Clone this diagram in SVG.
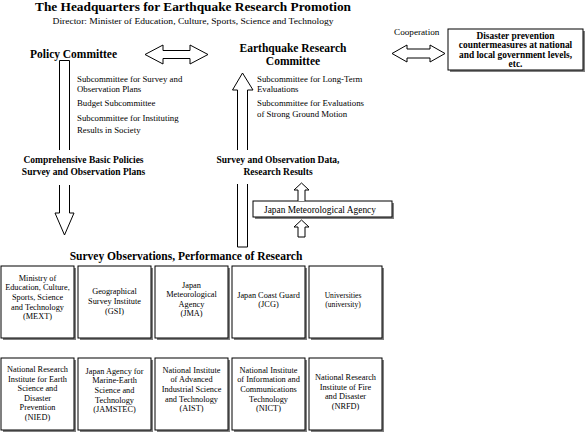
<svg xmlns="http://www.w3.org/2000/svg" width="585" height="433" viewBox="0 0 585 433" font-family="'Liberation Serif', 'Times New Roman', serif">
<defs>
<style>
text{font-family:'Liberation Serif','Times New Roman',serif;fill:#000}
.b{font-weight:bold}
.s{font-size:8.3px}
.sc{font-size:8.8px}
.lb{font-size:9.5px;font-weight:bold}
.c{text-anchor:middle}
.box{fill:#fff;stroke:#000;stroke-width:1}
.sh{fill:#808080}
.arr{fill:#fff;stroke:#000;stroke-width:1}
.ln{fill:none;stroke:#000;stroke-width:1}
</style>
</defs>
<rect width="585" height="433" fill="#fff"/>

<g id="header">
<text class="b c" x="193" y="11" font-size="12.5" textLength="316" lengthAdjust="spacingAndGlyphs">The Headquarters for Earthquake Research Promotion</text>
<text class="c" x="193" y="24" font-size="9" textLength="281" lengthAdjust="spacingAndGlyphs">Director: Minister of Education, Culture, Sports, Science and Technology</text>
</g>

<g id="policy-committee">
<text class="b" x="30" y="58" font-size="11.5" textLength="87" lengthAdjust="spacingAndGlyphs">Policy Committee</text>
<text class="sc" x="77" y="82">Subcommittee for Survey and</text>
<text class="sc" x="77" y="92">Observation Plans</text>
<text class="sc" x="77" y="106">Budget Subcommittee</text>
<text class="sc" x="77" y="121">Subcommittee for Instituting</text>
<text class="sc" x="77" y="133">Results in Society</text>
</g>

<g id="earthquake-research-committee">
<text class="b c" x="293" y="52" font-size="11.5">Earthquake Research</text>
<text class="b c" x="293" y="65" font-size="11.5">Committee</text>
<text class="sc" x="257" y="82">Subcommittee for Long-Term</text>
<text class="sc" x="257" y="92">Evaluations</text>
<text class="sc" x="257" y="106">Subcommittee for Evaluations</text>
<text class="sc" x="257" y="117">of Strong Ground Motion</text>
</g>

<g id="disaster-prevention">
<rect class="sh" x="450" y="31" width="135" height="41"/>
<rect class="box" x="448" y="29" width="135" height="41"/>
<text class="b c" x="515.5" y="38.5" font-size="9.4">Disaster prevention</text>
<text class="b c" x="515.5" y="48" font-size="9.4">countermeasures at national</text>
<text class="b c" x="515.5" y="57.5" font-size="9.4">and local government levels,</text>
<text class="b c" x="515.5" y="67" font-size="9.4">etc.</text>
</g>

<g id="labels">
<text x="394" y="35" font-size="9.2">Cooperation</text>
<text class="lb c" x="83.5" y="163">Comprehensive Basic Policies</text>
<text class="lb c" x="83.5" y="175">Survey and Observation Plans</text>
<text class="lb c" x="278" y="163">Survey and Observation Data,</text>
<text class="lb c" x="278" y="175">Research Results</text>
<text class="b c" x="186" y="260" font-size="11.5">Survey Observations, Performance of Research</text>
</g>

<g id="jma-box">
<rect class="sh" x="255" y="203" width="139" height="16"/>
<rect class="box" x="253" y="201" width="139" height="16"/>
<text class="c" x="320" y="212.5" font-size="9.4">Japan Meteorological Agency</text>
</g>

<g id="connectors">
<polygon class="arr" points="145,54.5 163,45 163,50.5 190,50.5 190,45 208,54.5 190,64 190,58.5 163,58.5 163,64"/>
<polygon class="arr" points="392,53.5 407,45 407,49 430,49 430,45 445,53.5 430,62 430,58 407,58 407,62"/>
<path class="ln" d="M59.5,150 V60.5 H69.5 V150"/>
<path class="arr" d="M59.5,185 V213 H55 L64.5,235 L74,213 H69.5 V185"/>
<path class="arr" d="M237.5,150 V90 H232.5 L242.5,73 L253,90 H247.5 V150"/>
<path class="ln" d="M237.5,184 V247 H247.5 V184"/>
<path class="arr" d="M298,201 V190 H294 L301.5,183 L309,190 H305 V201"/>
<path class="arr" d="M298,237 V227 H294 L301.5,220 L309,227 H305 V237 Z"/>
</g>

<g id="org-mext">
<rect class="sh" x="3" y="268" width="73" height="72"/>
<rect class="box" x="1" y="266" width="73" height="72"/>
<text class="s c" x="37.5" y="280.8">Ministry of</text>
<text class="s c" x="37.5" y="290.4">Education, Culture,</text>
<text class="s c" x="37.5" y="300">Sports, Science</text>
<text class="s c" x="37.5" y="309.6">and Technology</text>
<text class="s c" x="37.5" y="319.2">(MEXT)</text>
</g>
<g id="org-gsi">
<rect class="sh" x="80" y="268" width="73" height="72"/>
<rect class="box" x="78" y="266" width="73" height="72"/>
<text class="s c" x="114.5" y="294.4">Geographical</text>
<text class="s c" x="114.5" y="304">Survey Institute</text>
<text class="s c" x="114.5" y="313.6">(GSI)</text>
</g>
<g id="org-jma">
<rect class="sh" x="157" y="268" width="73" height="72"/>
<rect class="box" x="155" y="266" width="73" height="72"/>
<text class="s c" x="191.5" y="287.6">Japan</text>
<text class="s c" x="191.5" y="297.2">Meteorological</text>
<text class="s c" x="191.5" y="306.8">Agency</text>
<text class="s c" x="191.5" y="316.4">(JMA)</text>
</g>
<g id="org-jcg">
<rect class="sh" x="234" y="268" width="73" height="72"/>
<rect class="box" x="232" y="266" width="73" height="72"/>
<text class="s c" x="268.5" y="297.7">Japan Coast Guard</text>
<text class="s c" x="268.5" y="307.3">(JCG)</text>
</g>
<g id="org-university">
<rect class="sh" x="311" y="268" width="73" height="72"/>
<rect class="box" x="309" y="266" width="73" height="72"/>
<text class="c" x="343" y="298.3" font-size="7.6">Universities</text>
<text class="c" x="343" y="307.1" font-size="7.6">(university)</text>
</g>

<g id="org-nied">
<rect class="sh" x="3" y="360" width="73" height="72"/>
<rect class="box" x="1" y="358" width="73" height="72"/>
<text class="s c" x="37.5" y="372">National Research</text>
<text class="s c" x="37.5" y="381.6">Institute for Earth</text>
<text class="s c" x="37.5" y="391.2">Science and</text>
<text class="s c" x="37.5" y="400.8">Disaster</text>
<text class="s c" x="37.5" y="410.4">Prevention</text>
<text class="s c" x="37.5" y="420">(NIED)</text>
</g>
<g id="org-jamstec">
<rect class="sh" x="80" y="360" width="73" height="72"/>
<rect class="box" x="78" y="358" width="73" height="72"/>
<text class="s c" x="114.5" y="373.8">Japan Agency for</text>
<text class="s c" x="114.5" y="383.4">Marine-Earth</text>
<text class="s c" x="114.5" y="393">Science and</text>
<text class="s c" x="114.5" y="402.6">Technology</text>
<text class="s c" x="114.5" y="412.2">(JAMSTEC)</text>
</g>
<g id="org-aist">
<rect class="sh" x="157" y="360" width="73" height="72"/>
<rect class="box" x="155" y="358" width="73" height="72"/>
<text class="s c" x="191.5" y="372.8">National Institute</text>
<text class="s c" x="191.5" y="382.4">of Advanced</text>
<text class="s c" x="191.5" y="392">Industrial Science</text>
<text class="s c" x="191.5" y="401.6">and Technology</text>
<text class="s c" x="191.5" y="411.2">(AIST)</text>
</g>
<g id="org-nict">
<rect class="sh" x="234" y="360" width="73" height="72"/>
<rect class="box" x="232" y="358" width="73" height="72"/>
<text class="s c" x="268.5" y="372.8">National Institute</text>
<text class="s c" x="268.5" y="382.4">of Information and</text>
<text class="s c" x="268.5" y="392">Communications</text>
<text class="s c" x="268.5" y="401.6">Technology</text>
<text class="s c" x="268.5" y="411.2">(NICT)</text>
</g>
<g id="org-nrfd">
<rect class="sh" x="311" y="360" width="73" height="72"/>
<rect class="box" x="309" y="358" width="73" height="72"/>
<text class="s c" x="345.5" y="380.1">National Research</text>
<text class="s c" x="345.5" y="389.7">Institute of Fire</text>
<text class="s c" x="345.5" y="399.3">and Disaster</text>
<text class="s c" x="345.5" y="408.9">(NRFD)</text>
</g>
</svg>
